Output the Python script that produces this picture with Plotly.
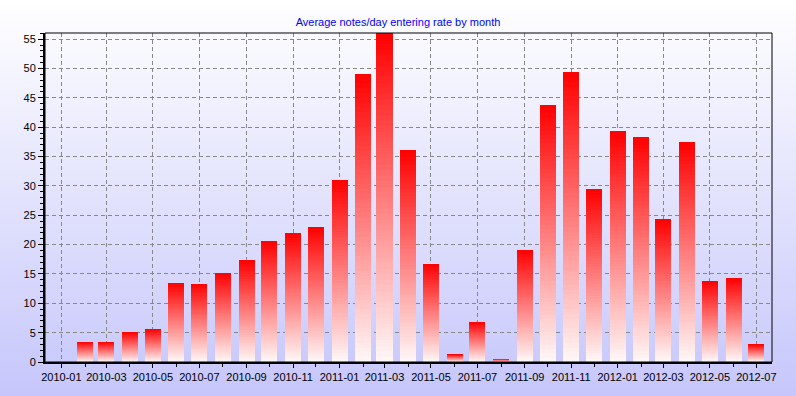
import base64
import plotly.graph_objects as go

# ---- data ----
months = ["2010-01", "2010-02", "2010-03", "2010-04", "2010-05", "2010-06", "2010-07",
          "2010-08", "2010-09", "2010-10", "2010-11", "2010-12", "2011-01", "2011-02",
          "2011-03", "2011-04", "2011-05", "2011-06", "2011-07", "2011-08", "2011-09",
          "2011-10", "2011-11", "2011-12", "2012-01", "2012-02", "2012-03", "2012-04",
          "2012-05", "2012-06", "2012-07"]
rate = [0, 3.4, 3.4, 5.1, 5.6, 13.5, 13.3,
        15.2, 17.3, 20.7, 21.9, 23.0, 31.0, 49.1,
        56.0, 36.1, 16.7, 1.3, 6.8, 0.5, 19.1,
        43.8, 49.4, 29.4, 39.3, 38.3, 24.3, 37.4,
        13.8, 14.3, 3.0]
title_text = "Average notes/day entering rate by month"

# ---- layout geometry ----
W, H = 796, 396
ML, MR, MT, MB = 45, 24, 33, 34
PW, PH = W - ML - MR, H - MT - MB

x_dates = [m + "-01" for m in months]
bar_width_ms = 21 * 86400000
N = 60

fig = go.Figure()
for k in range(N):
    t = (k + 0.5) / N  # 0 bottom -> 1 top
    g = round(248 * (1 - t))
    color = f"rgb(255,{g},{g})"
    fig.add_trace(go.Bar(
        x=x_dates, y=[v / N for v in rate], width=bar_width_ms,
        marker=dict(color=color, line=dict(width=0)),
        showlegend=False, hoverinfo="skip",
    ))

svg = (f'<svg xmlns="http://www.w3.org/2000/svg" width="{W}" height="{H}" preserveAspectRatio="none">'
       '<defs><linearGradient id="g" x1="0" y1="0" x2="0" y2="1">'
       '<stop offset="0" stop-color="#ffffff"/><stop offset="1" stop-color="#c6c6fc"/>'
       '</linearGradient></defs>'
       f'<rect width="{W}" height="{H}" fill="url(#g)"/></svg>')
src = "data:image/svg+xml;base64," + base64.b64encode(svg.encode()).decode()

font = "Liberation Sans, Arial, sans-serif"
fig.update_layout(
    width=W, height=H,
    margin=dict(l=ML, r=MR, t=MT, b=MB, pad=0, autoexpand=False),
    barmode="stack", bargap=0,
    paper_bgcolor="white", plot_bgcolor="rgba(0,0,0,0)",
    font=dict(family=font, size=11, color="black"),
    title=dict(text=title_text, x=0.5, xanchor="center", xref="container",
               y=1 - 22.5 / H, yref="container", yanchor="middle",
               font=dict(family=font, size=11, color="#0000ff")),
    images=[dict(source=src, xref="paper", yref="paper",
                 x=-ML / PW, y=1 + MT / PH, sizex=W / PW, sizey=H / PH,
                 xanchor="left", yanchor="top", sizing="stretch", layer="below")],
    shapes=[dict(type="rect", xref="paper", yref="paper", x0=0, x1=1, y0=0, y1=1,
                 line=dict(color="black", width=1), layer="above")],
    xaxis=dict(type="date", range=["2009-12-10 12:00", "2012-07-21 12:00"],
               tick0="2010-01-01", dtick="M2", tickformat="%Y-%m",
               ticks="outside", ticklen=4, tickcolor="black", automargin=False,
               showgrid=True, gridcolor="#888888", griddash="4px,3px", gridwidth=1,
               showline=True, linewidth=2, linecolor="black", zeroline=False,
               minor=dict(dtick="M1", ticks="outside", ticklen=3, tickcolor="black", showgrid=False)),
    yaxis=dict(range=[0, 56.05], tick0=0, dtick=5, automargin=False,
               ticks="outside", ticklen=5, tickcolor="black",
               showgrid=True, gridcolor="#888888", griddash="4px,3px", gridwidth=1,
               showline=True, linewidth=2, linecolor="black", zeroline=False,
               minor=dict(dtick=1, ticks="outside", ticklen=3, tickcolor="black", showgrid=False)),
)

fig.write_html("out.html", config={"displayModeBar": False, "staticPlot": True},
               post_script="document.body.style.margin='0';document.body.style.overflow='hidden';")
